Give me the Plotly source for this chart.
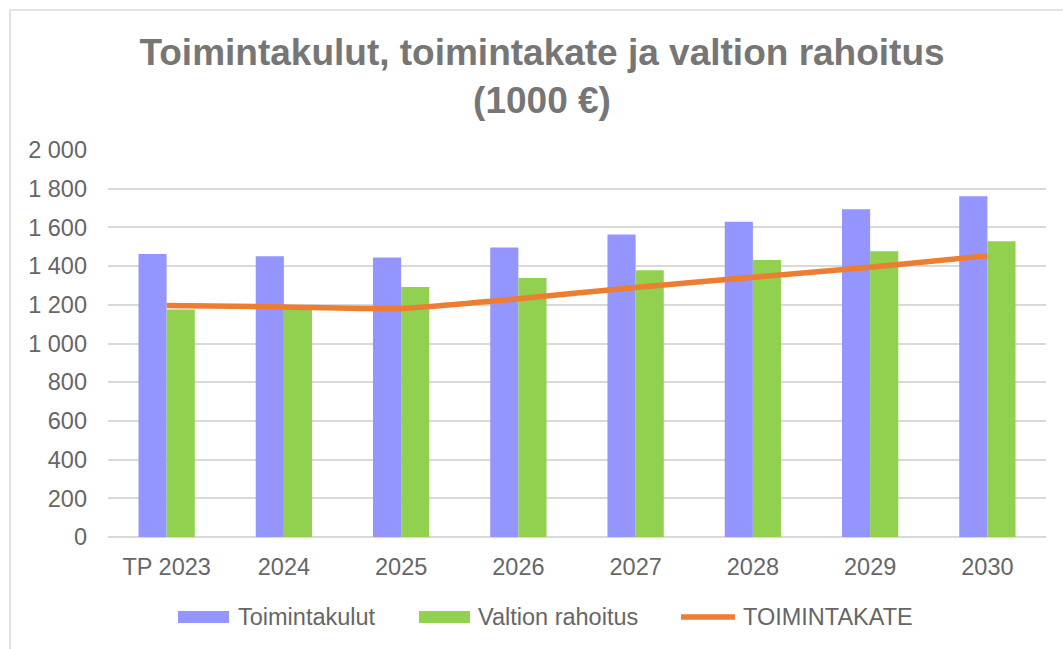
import plotly.graph_objects as go

categories = ["TP 2023", "2024", "2025", "2026", "2027", "2028", "2029", "2030"]
toimintakulut = [1463, 1451, 1445, 1496, 1563, 1629, 1694, 1761]
valtion_rahoitus = [1176, 1185, 1292, 1338, 1378, 1431, 1477, 1529]
toimintakate = [1196, 1189, 1181, 1231, 1290, 1342, 1394, 1453]
y_ticks = [0, 200, 400, 600, 800, 1000, 1200, 1400, 1600, 1800, 2000]

FONT = "Liberation Sans, Arial, sans-serif"
TXT = "#666666"
C_BLUE, C_GREEN, C_ORANGE = "#9595FF", "#92D050", "#ED7D31"
FS = 23.5

fig = go.Figure()
fig.add_trace(go.Bar(x=categories, y=toimintakulut, name="Toimintakulut", showlegend=False,
                     marker=dict(color=C_BLUE, line=dict(width=0))))
fig.add_trace(go.Bar(x=categories, y=valtion_rahoitus, name="Valtion rahoitus", showlegend=False,
                     marker=dict(color=C_GREEN, line=dict(width=0))))
fig.add_trace(go.Scatter(x=categories, y=toimintakate, name="TOIMINTAKATE", mode="lines",
                         showlegend=False,
                         line=dict(color=C_ORANGE, width=5.5, shape="spline", smoothing=0.5)))

W, H = 1063, 649
L, R, T, B = 108, 17, 150, 112
pw, ph = W - L - R, H - T - B

def px_x(x):
    return (x - L) / pw

def px_y(y):
    return (H - B - y) / ph

shapes = [dict(type="rect", xref="paper", yref="paper",
               x0=px_x(10), x1=px_x(1080), y0=px_y(670), y1=px_y(10),
               line=dict(color="#D9D9D9", width=1.5), fillcolor="rgba(0,0,0,0)", layer="below")]
annotations = []

# legend drawn manually (pixel positions)
LEG_Y = 617
legend_items = [("Toimintakulut", C_BLUE, "bar", 178, 229, 236),
                ("Valtion rahoitus", C_GREEN, "bar", 419, 470, 476),
                ("TOIMINTAKATE", C_ORANGE, "line", 681, 735, 741)]
for name, col, kind, sx0, sx1, tx in legend_items:
    if kind == "bar":
        shapes.append(dict(type="rect", xref="paper", yref="paper",
                           x0=px_x(sx0), x1=px_x(sx1), y0=px_y(LEG_Y + 6), y1=px_y(LEG_Y - 6),
                           line=dict(width=0), fillcolor=col))
    else:
        shapes.append(dict(type="line", xref="paper", yref="paper",
                           x0=px_x(sx0), x1=px_x(sx1), y0=px_y(LEG_Y), y1=px_y(LEG_Y),
                           line=dict(color=col, width=5.5)))
    annotations.append(dict(text=name, xref="paper", yref="paper", x=px_x(tx), y=px_y(LEG_Y),
                            xanchor="left", yanchor="middle", showarrow=False,
                            font=dict(size=FS, color=TXT, family=FONT)))

fig.update_layout(
    width=W, height=H,
    margin=dict(l=L, r=R, t=T, b=B, autoexpand=False),
    paper_bgcolor="white", plot_bgcolor="white",
    separators=", ",
    barmode="group", bargap=0.52, bargroupgap=0,
    font=dict(family=FONT, color=TXT, size=FS),
    showlegend=False,
    title=dict(text="<b>Toimintakulut, toimintakate ja valtion rahoitus<br>(1000 €)</b>",
               x=542 / W, xanchor="center", xref="container",
               y=1 - 65 / H, yanchor="top", yref="container",
               font=dict(family=FONT, size=37, color="#767676")),
    xaxis=dict(showgrid=False, showline=False, ticks="", ticklabelstandoff=13,
               tickfont=dict(size=FS, color=TXT)),
    yaxis=dict(range=[0, 2000], tickvals=y_ticks, tickformat=",d",
               showgrid=True, gridcolor="#D9D9D9", gridwidth=1.5,
               zeroline=True, zerolinecolor="#D9D9D9", zerolinewidth=1.5,
               showline=False, ticks="", ticklabelstandoff=20,
               tickfont=dict(size=FS, color=TXT)),
    shapes=shapes,
    annotations=annotations,
)

fig.write_html("out.html", config={"displayModeBar": False},
               post_script="document.body.style.margin='0';document.body.style.padding='0';")
